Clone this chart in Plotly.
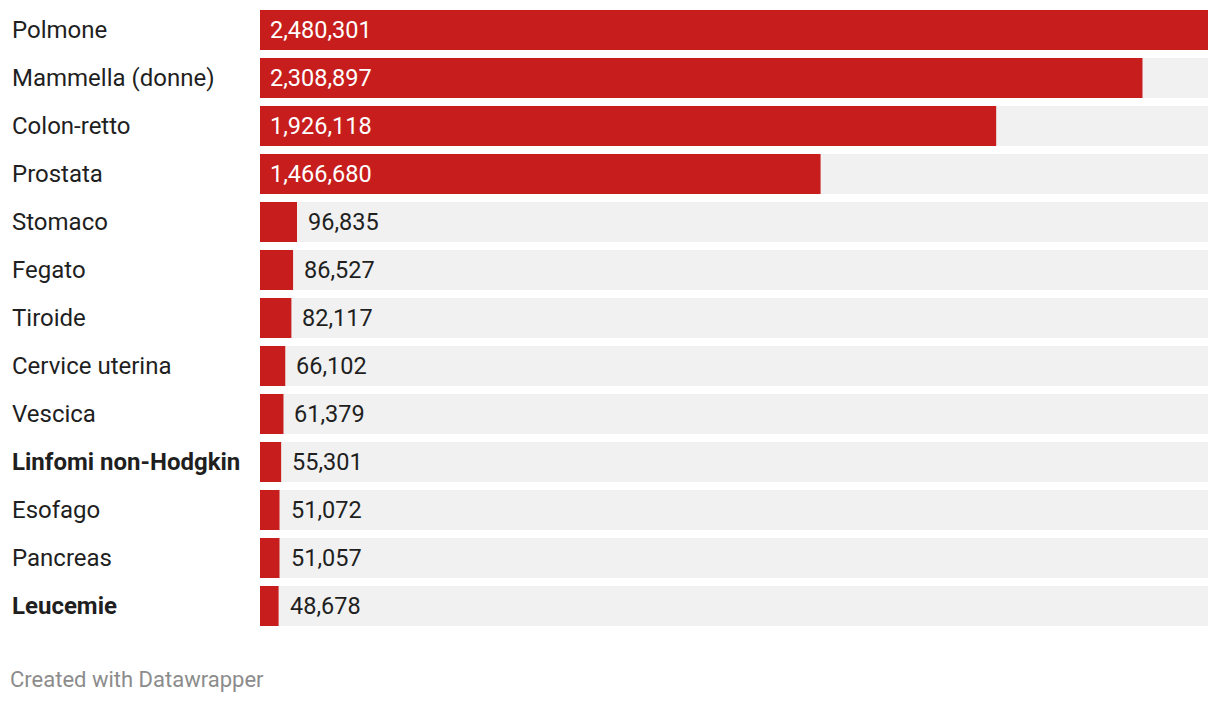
import plotly.graph_objects as go

categories = ["Polmone", "Mammella (donne)", "Colon-retto", "Prostata", "Stomaco", "Fegato",
              "Tiroide", "Cervice uterina", "Vescica", "Linfomi non-Hodgkin", "Esofago",
              "Pancreas", "Leucemie"]
values = [2480301, 2308897, 1926118, 1466680, 96835, 86527, 82117, 66102, 61379, 55301,
          51072, 51057, 48678]
bold = ["Linfomi non-Hodgkin", "Leucemie"]

# page has an 8px body margin, so the figure is 8px smaller and shifted
W, H = 1212, 694
L, R, T, B = 252, 12, 0, 72
vmax = max(values)
FONT = "Roboto"
RED = "#c71e1d"
GRAY = "#f1f1f1"
ROW = 48.0

fig = go.Figure()
fig.add_trace(go.Bar(y=categories, x=[vmax] * len(categories), orientation="h",
                     marker=dict(color=GRAY, line=dict(width=0)), hoverinfo="skip"))
fig.add_trace(go.Bar(y=categories, x=values, orientation="h",
                     marker=dict(color=RED, line=dict(width=0))))

pw = W - L - R
ph = H - T - B
annotations = []
for c, v in zip(categories, values):
    label = f"<b>{c}</b>" if c in bold else c
    annotations.append(dict(x=(2 - L) / pw, y=c, xref="paper", yref="y", text=label,
                            showarrow=False, xanchor="left", yanchor="middle",
                            font=dict(family=FONT, size=24, color="#1f1f1f")))
    inside = v > vmax * 0.3
    annotations.append(dict(x=0 if inside else v, y=c, xref="x", yref="y",
                            text=f"{v:,}", showarrow=False, xanchor="left", yanchor="middle",
                            xshift=8 if inside else 9,
                            font=dict(family=FONT, size=23.5,
                                      color="white" if inside else "#1f1f1f")))
annotations.append(dict(x=(0 - L) / pw, y=-(671 - (H - B)) / ph, xref="paper",
                        yref="paper", text="Created with Datawrapper", showarrow=False,
                        xanchor="left", yanchor="middle",
                        font=dict(family=FONT, size=22, color="#8c8c8c")))

n = len(categories)
top = -0.5 + 2 / ROW
fig.update_layout(
    width=W, height=H, margin=dict(l=L, r=R, t=T, b=B),
    barmode="overlay", bargap=8 / ROW, showlegend=False,
    plot_bgcolor="white", paper_bgcolor="white",
    xaxis=dict(range=[0, vmax], visible=False, fixedrange=True),
    yaxis=dict(range=[n - 0.5, top], visible=False, fixedrange=True),
    annotations=annotations,
)
fig.write_html("out.html")
